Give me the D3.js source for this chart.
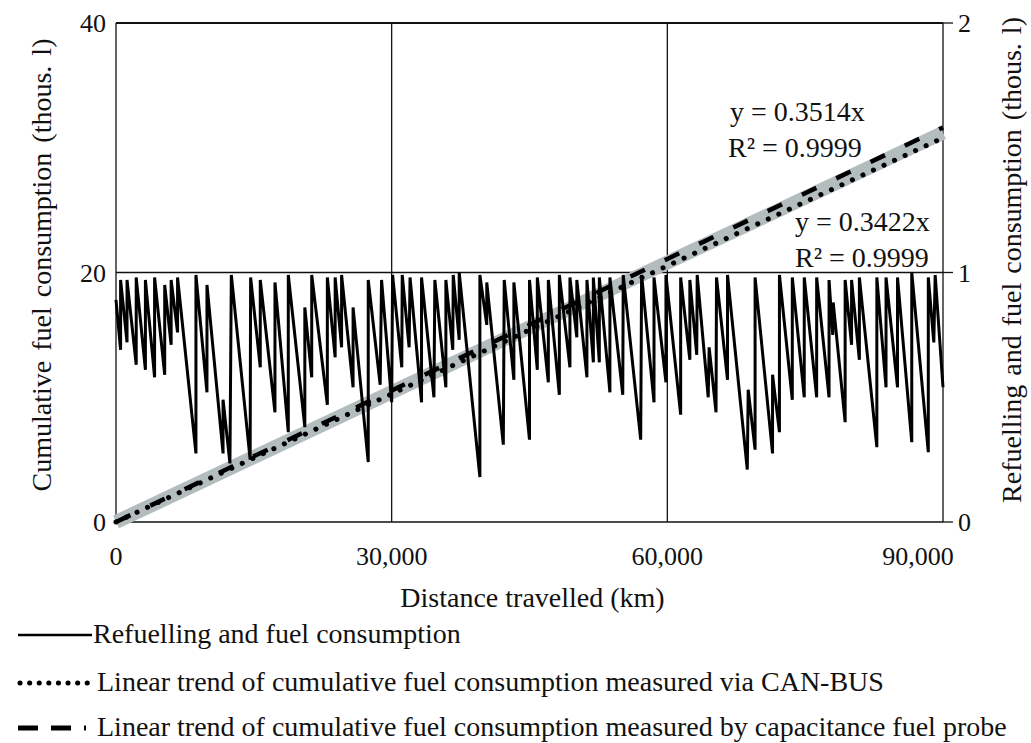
<!DOCTYPE html>
<html><head><meta charset="utf-8">
<script src="https://cdn.jsdelivr.net/npm/d3@7"></script>
<style>
body{margin:0;background:#fff;}
</style></head>
<body><svg id="c" width="1031" height="743"></svg>
<script>
// ---- data ----
const xTicks = [0, 30000, 60000, 90000];
const xTickLabels = ["0", "30,000", "60,000", "90,000"];
const yLeftTicks = [0, 20, 40];
const yRightTicks = [0, 1, 2];
// refuelling and fuel level [km, thous. l]
const refuelSeries = [[0,0.89],[500,0.69],[500,0.97],[1200,0.72],[1200,0.97],[2200,0.63],[2200,0.98],[3200,0.61],[3200,0.97],[4200,0.58],[4200,0.98],[5300,0.59],[5300,0.95],[6000,0.71],[6000,0.97],[6700,0.76],[6700,0.98],[8700,0.275],[8700,0.99],[9900,0.52],[9900,0.95],[11650,0.275],[11650,0.49],[12400,0.235],[12550,0.99],[14600,0.25],[14650,0.98],[15700,0.62],[15700,0.97],[17300,0.44],[17300,0.96],[18750,0.36],[18750,0.99],[20550,0.38],[20550,0.86],[21300,0.58],[21300,0.99],[23000,0.47],[23000,0.98],[23850,0.66],[23850,0.98],[24550,0.70],[24550,0.99],[25800,0.54],[25800,0.86],[27450,0.24],[27450,0.97],[28750,0.55],[28900,0.97],[30000,0.48],[30100,0.99],[31100,0.62],[31150,0.99],[31900,0.70],[32000,0.98],[33250,0.48],[33250,0.98],[34600,0.50],[34700,0.97],[35900,0.54],[35900,0.97],[36650,0.69],[36700,0.99],[37350,0.73],[37350,1.0],[39600,0.18],[39600,0.99],[40350,0.79],[40350,0.96],[42150,0.31],[42250,0.97],[43300,0.57],[43300,0.96],[45000,0.33],[45000,0.97],[45850,0.61],[45850,0.98],[47050,0.56],[47050,0.97],[48250,0.51],[48250,0.99],[49400,0.62],[49400,0.98],[50150,0.74],[50150,0.97],[51250,0.58],[51250,0.97],[51950,0.64],[51950,0.98],[52600,0.64],[52600,0.98],[53750,0.52],[53750,0.98],[55150,0.51],[55200,0.99],[57100,0.33],[57200,0.99],[58550,0.48],[58550,0.98],[59850,0.56],[59850,0.99],[61450,0.43],[61450,0.98],[62450,0.65],[62450,0.97],[63200,0.67],[63250,0.99],[64450,0.50],[64550,0.70],[65300,0.44],[65350,0.98],[66550,0.57],[66550,0.99],[68700,0.21],[68800,0.53],[69550,0.29],[69550,0.98],[71450,0.275],[71450,0.59],[72200,0.36],[72200,0.99],[73600,0.49],[73600,0.98],[74900,0.50],[74900,0.98],[76250,0.50],[76250,0.98],[77600,0.50],[77600,0.97],[78000,0.75],[78050,0.88],[79350,0.40],[79350,0.97],[80050,0.71],[80050,0.97],[80900,0.65],[80900,0.98],[82800,0.30],[82800,0.98],[83800,0.54],[83800,0.98],[85050,0.54],[85050,0.98],[86600,0.32],[86600,1.0],[88400,0.28],[88400,0.98],[89000,0.72],[89150,0.99],[90000,0.54]];
// cumulative fuel consumption (thous. l)
const cumulativeKm = [0, 90000];
const cumulativeVal = [0, 31.2];
// linear trends: thous. l per thous. km
const probeSlope = 0.3514;
const canBusSlope = 0.3422;
const trendKm = [0, 90000];
const legendLabels = ["Refuelling and fuel consumption",
  "Linear trend of cumulative fuel consumption measured via CAN-BUS",
  "Linear trend of cumulative fuel consumption measured by capacitance fuel probe"];

// ---- chart ----
const FONT = "'Liberation Serif', 'DejaVu Serif', 'Times New Roman', Times, serif";
const svg = d3.select("#c").attr("font-family", FONT);
const L = 116, R = 943, T = 23, B = 522;
const x = d3.scaleLinear().domain([0, 90000]).range([L, R]);
const yL = d3.scaleLinear().domain([0, 40]).range([B, T]);
const yR = d3.scaleLinear().domain([0, 2]).range([B, T]);

const g = svg.append("g");
// grid
g.selectAll(".vg").data(xTicks).join("line")
  .attr("x1", d => x(d)).attr("x2", d => x(d)).attr("y1", T).attr("y2", B)
  .attr("stroke", "#111").attr("stroke-width", 1.3);
g.selectAll(".hg").data(yLeftTicks).join("line")
  .attr("x1", L).attr("x2", R).attr("y1", d => yL(d)).attr("y2", d => yL(d))
  .attr("stroke", "#111").attr("stroke-width", d => d === 40 ? 2 : 1.3);

// right axis ticks
g.selectAll(".rt").data(yRightTicks).join("line")
  .attr("x1", R).attr("x2", R + 10).attr("y1", d => yR(d)).attr("y2", d => yR(d))
  .attr("stroke", "#111").attr("stroke-width", 1.3);

// cumulative grey band
const lineL = d3.line().x(d => x(d[0])).y(d => yL(d[1]));
g.append("path").datum(cumulativeKm.map((k, i) => [k, cumulativeVal[i]]))
  .attr("d", lineL).attr("fill", "none").attr("stroke", "#b4bdbd").attr("stroke-width", 14);

// trends
g.append("path").datum(trendKm.map(k => [k, probeSlope * k / 1000]))
  .attr("d", lineL).attr("fill", "none").attr("stroke", "#000").attr("stroke-width", 4.5)
  .attr("stroke-dasharray", "16,22");
g.append("path").datum(trendKm.map(k => [k, canBusSlope * k / 1000]))
  .attr("d", lineL).attr("fill", "none").attr("stroke", "#000").attr("stroke-width", 5)
  .attr("stroke-linecap", "round").attr("stroke-dasharray", "0.1,11.5");

// sawtooth
const lineR = d3.line().x(d => x(d[0])).y(d => yR(d[1]));
g.append("path").datum(refuelSeries).attr("d", lineR)
  .attr("fill", "none").attr("stroke", "#000").attr("stroke-width", 3).attr("stroke-linejoin", "miter");

// tick labels
const txt = sel => sel.attr("fill", "#111");
g.selectAll(".xl").data(xTicks).join("text").call(txt)
  .attr("x", (d, i) => x(d) + (i === xTicks.length - 1 ? -25 : 0)).attr("y", 565)
  .attr("text-anchor", "middle").attr("font-size", 26).text((d, i) => xTickLabels[i]);
g.selectAll(".yl").data(yLeftTicks).join("text").call(txt)
  .attr("x", 106).attr("y", d => yL(d) + 9).attr("text-anchor", "end").attr("font-size", 26).text(d => d);
g.selectAll(".yr").data(yRightTicks).join("text").call(txt)
  .attr("x", 958).attr("y", d => yR(d) + 9).attr("text-anchor", "start").attr("font-size", 26).text(d => d);

// axis titles
svg.append("text").call(txt).attr("x", (L + R) / 2 + 3).attr("y", 607).attr("text-anchor", "middle")
  .attr("font-size", 28).text("Distance travelled (km)");
svg.append("text").call(txt).attr("transform", "translate(51,265) rotate(-90)").attr("text-anchor", "middle")
  .attr("font-size", 28).attr("word-spacing", 3).text("Cumulative fuel consumption (thous. l)");
svg.append("text").call(txt).attr("transform", "translate(1021,260) rotate(-90)").attr("text-anchor", "middle")
  .attr("font-size", 28).attr("word-spacing", 2).text("Refuelling and fuel consumption (thous. l)");

// equations
const eq = [["y = 0.3514x", 730, 121], ["R² = 0.9999", 728, 157], ["y = 0.3422x", 795, 231], ["R² = 0.9999", 795, 267]];
svg.selectAll(".eq").data(eq).join("text").call(txt).attr("x", d => d[1]).attr("y", d => d[2])
  .attr("font-size", 28).text(d => d[0]);

// legend
const lg = svg.append("g");
const ly = [635, 683, 728];
lg.append("line").attr("x1", 18).attr("x2", 92).attr("y1", ly[0]).attr("y2", ly[0]).attr("stroke", "#000").attr("stroke-width", 2.5);
lg.append("line").attr("x1", 20).attr("x2", 90).attr("y1", ly[1]).attr("y2", ly[1]).attr("stroke", "#000").attr("stroke-width", 5)
  .attr("stroke-linecap", "round").attr("stroke-dasharray", "0.1,9.5");
lg.append("line").attr("x1", 18).attr("x2", 86).attr("y1", ly[2]).attr("y2", ly[2]).attr("stroke", "#000").attr("stroke-width", 5)
  .attr("stroke-dasharray", "20,13");
lg.selectAll(".lt").data(legendLabels).join("text").call(txt)
  .attr("x", (d, i) => i === 0 ? 93 : 97).attr("y", (d, i) => ly[i] + 8).attr("font-size", 28).text(d => d);
</script></body></html>
